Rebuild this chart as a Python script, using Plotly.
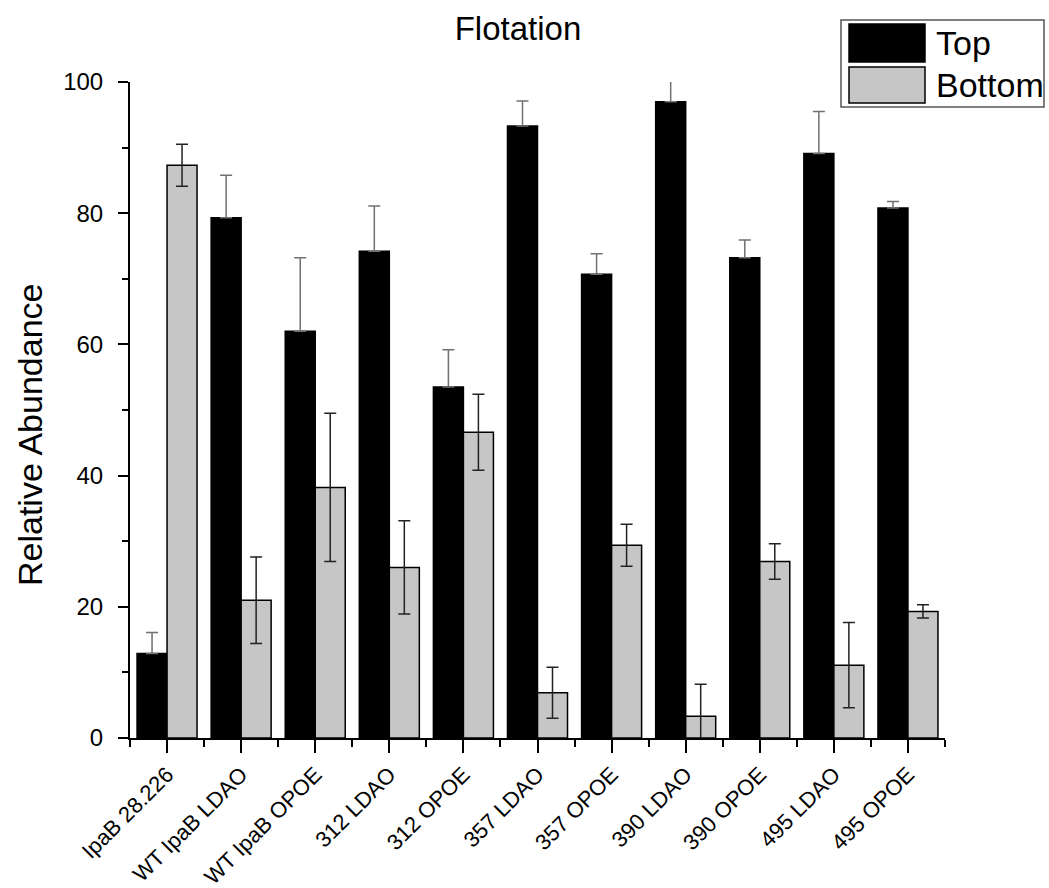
import plotly.graph_objects as go

# Flotation assay: relative abundance in top and bottom fractions
categories = ["IpaB 28.226", "WT IpaB LDAO", "WT IpaB OPOE", "312 LDAO", "312 OPOE",
              "357 LDAO", "357 OPOE", "390 LDAO", "390 OPOE", "495 LDAO", "495 OPOE"]
top_vals = [12.9, 79.3, 62.0, 74.2, 53.5, 93.3, 70.7, 97.0, 73.2, 89.1, 80.8]
top_err = [3.2, 6.5, 11.2, 6.9, 5.7, 3.8, 3.1, 3.2, 2.7, 6.4, 1.0]
bottom_vals = [87.3, 21.0, 38.2, 26.0, 46.6, 6.9, 29.4, 3.3, 26.9, 11.1, 19.3]
bottom_err = [3.2, 6.6, 11.3, 7.1, 5.8, 3.9, 3.2, 4.9, 2.7, 6.5, 1.0]
y_ticks = [0, 20, 40, 60, 80, 100]

W, H = 1049, 888
ML, MR, MT, MB = 130, 104, 82, 150
FONT = "Arial, Liberation Sans, sans-serif"

x_pos = list(range(len(categories)))


def px_x(px):
    return (px - ML) / (W - ML - MR)


def px_y(py):
    return (H - MB - py) / (H - MT - MB)


fig = go.Figure()
fig.add_trace(go.Bar(
    name="Top", x=x_pos, y=top_vals,
    marker=dict(color="#000000", line=dict(color="#000000", width=1.5)),
    error_y=dict(type="data", array=top_err, arrayminus=[0] * len(top_err),
                 symmetric=False, color="#707070", thickness=1.5, width=6),
))
fig.add_trace(go.Bar(
    name="Bottom", x=x_pos, y=bottom_vals,
    marker=dict(color="#c6c6c6", line=dict(color="#000000", width=1.5)),
    error_y=dict(type="data", array=bottom_err, color="#222222",
                 thickness=1.5, width=6),
))

fig.update_layout(
    width=W, height=H,
    margin=dict(l=ML, r=MR, t=MT, b=MB, pad=0, autoexpand=False),
    paper_bgcolor="white", plot_bgcolor="white",
    barmode="group", bargap=0.19, bargroupgap=0,
    showlegend=False,
    font=dict(family=FONT, color="black"),
    title=dict(text="Flotation", font=dict(size=33, family=FONT),
               x=518 / W, xref="container", xanchor="center",
               y=1 - 28 / H, yref="container", yanchor="middle"),
)

fig.update_xaxes(
    range=[-0.5, len(categories) - 0.5],
    automargin=False,
    tickmode="array", tickvals=x_pos, ticktext=categories, tickangle=-45,
    tickfont=dict(size=22, family=FONT),
    ticks="outside", ticklen=13, tickwidth=2, tickcolor="black",
    showline=True, linecolor="black", linewidth=2,
    showgrid=False, zeroline=False,
    minor=dict(tickvals=[i - 0.5 for i in range(len(categories) + 1)],
               ticks="outside", ticklen=7, tickwidth=2, tickcolor="black"),
)
fig.update_yaxes(
    range=[0, 100],
    automargin=False,
    tickmode="array", tickvals=y_ticks,
    tickfont=dict(size=24, family=FONT),
    ticks="outside", ticklen=10, tickwidth=2, tickcolor="black",
    ticklabelstandoff=10,
    showline=True, linecolor="black", linewidth=2,
    showgrid=False, zeroline=False,
    minor=dict(dtick=10, ticks="outside", ticklen=6, tickwidth=2, tickcolor="black"),
)

# Y axis title
fig.add_annotation(text="Relative Abundance", textangle=-90,
                   xref="paper", yref="paper", x=px_x(30), y=px_y(435),
                   xanchor="center", yanchor="middle", showarrow=False,
                   font=dict(size=34, family=FONT))

# Legend box with large swatches
fig.add_shape(type="rect", xref="paper", yref="paper",
              x0=px_x(841), x1=px_x(1044), y0=px_y(107), y1=px_y(20),
              line=dict(color="#555555", width=1.5), fillcolor="white", layer="above")
fig.add_shape(type="rect", xref="paper", yref="paper",
              x0=px_x(849), x1=px_x(925), y0=px_y(62), y1=px_y(24),
              line=dict(color="#000000", width=1.5), fillcolor="#000000", layer="above")
fig.add_shape(type="rect", xref="paper", yref="paper",
              x0=px_x(849), x1=px_x(925), y0=px_y(103), y1=px_y(67),
              line=dict(color="#000000", width=1.5), fillcolor="#c6c6c6", layer="above")
for label, cy in (("Top", 43), ("Bottom", 85)):
    fig.add_annotation(text=label, xref="paper", yref="paper",
                       x=px_x(934), y=px_y(cy), xanchor="left", yanchor="middle",
                       showarrow=False, font=dict(size=34, family=FONT))

fig.write_html("out.html")
